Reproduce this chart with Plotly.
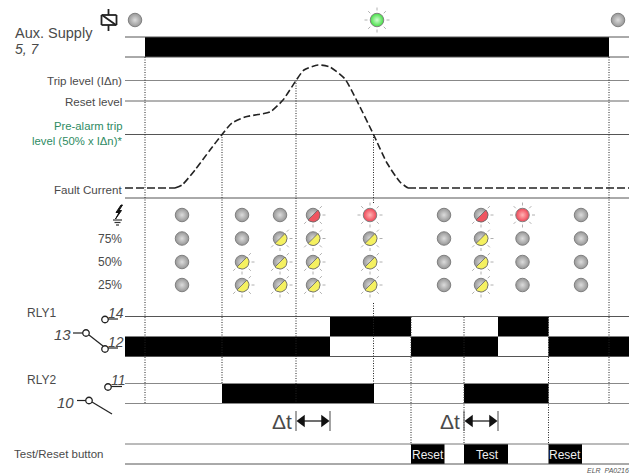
import plotly.graph_objects as go
import math

# ---------- data ----------
time_start, time_end = 125, 629
aux_supply_on = [(145, 609)]
rly1_upper_on = [(330, 411), (498, 548.5)]
rly1_lower_on = [(125, 330), (411, 498), (548.5, 629)]
rly2_on = [(222, 374), (464, 548.5)]
button_on = [(411, 444.5), (464, 508), (548.5, 582)]
button_labels = ["Reset", "Test", "Reset"]

trace_levels = [37, 57, 80.5, 101, 134.5, 198, 316.5, 356.5, 383.5, 403.5, 444, 464]
level_shades = ["#555", "#555", "#888", "#666", "#555", "#555", "#555", "#555", "#888", "#888", "#777", "#555"]

baseline_x = [125, 175]
baseline_y = [188, 188]
current_x = [175, 182, 195, 210, 222, 232, 245, 258, 270, 283, 296, 304, 318, 330, 345, 357, 373.5, 387, 400, 408]
current_y = [188, 185, 170, 150, 134.5, 123, 117, 114.5, 112, 100, 80.5, 70, 65, 67, 79, 101, 134.5, 163, 182, 188]
tail_x = [408, 629]
tail_y = [188, 188]

event_lines = [(145, 57, 403), (222, 134.5, 384), (296, 80.5, 403), (373.5, 134.5, 204), (373.5, 303, 384),
               (411, 317, 445), (464, 317, 445), (548.5, 317, 445), (609, 57, 403)]

led_columns = [182, 242, 280, 313, 370, 444, 481, 522.5, 581]
led_rows = [215, 238.5, 262, 285]
# o = off, h = half lit, f = fully lit (top row red, others yellow)
led_states = [
    "oooo", "oohh", "ohhh", "hhhh", "fhhh", "oooo", "hhhh", "fooo", "oooo",
]
supply_led_x = [135, 377, 618]
supply_led_state = ["o", "f", "o"]
supply_led_y = 20

delta_spans = [(296, 330), (464, 498)]
delta_y = 421

# ---------- helpers ----------
INK = "#4a4a4a"
fig = go.Figure()


def segs(items):
    xs, ys = [], []
    for (x0, y0, x1, y1) in items:
        xs += [x0, x1, None]
        ys += [y0, y1, None]
    return xs, ys


def lines(items, color, width=1, dash=None):
    xs, ys = segs(items)
    fig.add_trace(go.Scatter(x=xs, y=ys, mode="lines", hoverinfo="skip",
                             line=dict(color=color, width=width, dash=dash)))


def poly(xs, ys, fill, line_color=None, width=1):
    fig.add_trace(go.Scatter(x=xs, y=ys, mode="lines", fill="toself", fillcolor=fill, hoverinfo="skip",
                             line=dict(color=line_color or fill, width=width)))


def band(spans, y0, y1):
    fig.add_trace(go.Bar(y=[(y0 + y1) / 2] * len(spans), x=[b - a for a, b in spans], base=[a for a, b in spans],
                         width=y1 - y0, orientation="h", marker=dict(color="#000", line=dict(width=0)),
                         hoverinfo="skip"))


def label(x, y, s, size=12, color=INK, anchor="right", italic=False, family="Liberation Sans"):
    fig.add_annotation(x=x, y=y, text=s, showarrow=False, xanchor=anchor, yanchor="middle", xref="x", yref="y",
                       font=dict(size=size, color=color, family=family, style="italic" if italic else "normal"),
                       borderpad=0, borderwidth=0)


def leds(xs, ys, edge, centre):
    fig.add_trace(go.Scatter(x=xs, y=ys, mode="markers", hoverinfo="skip",
                             marker=dict(size=13.5, color=edge, gradient=dict(type="radial", color=centre),
                                         line=dict(color="#808080", width=1))))


def half_disc(cx, cy, fill):
    r = 7
    pts = [math.radians(-45 + i * 15) for i in range(13)]
    poly([cx + r * math.cos(a) for a in pts] + [cx + r * math.cos(pts[0])],
         [cy + r * math.sin(a) for a in pts] + [cy + r * math.sin(pts[0])],
         fill, "#666", 0.8)


def rays(cx, cy, angles, r0=9.5, r1=12.5):
    return [(cx + r0 * math.cos(math.radians(a)), cy + r0 * math.sin(math.radians(a)),
             cx + r1 * math.cos(math.radians(a)), cy + r1 * math.sin(math.radians(a))) for a in angles]


# ---------- bands ----------
band(aux_supply_on, 37, 57)
band(rly1_upper_on, 316.5, 336.5)
band(rly1_lower_on, 336.5, 356.5)
band(rly2_on, 383.5, 403.5)
band(button_on, 444, 464)

# ---------- levels ----------
for lvl, shade in zip(trace_levels, level_shades):
    lines([(time_start, lvl, time_end, lvl)], shade, 1.2 if shade == "#888" else 1)

lines([(a, y0, a, y1) for a, y0, y1 in event_lines], "#222", 1, "1px,1.5px")

# ---------- fault current ----------
fig.add_trace(go.Scatter(x=baseline_x, y=baseline_y, mode="lines", hoverinfo="skip",
                         line=dict(color="#222", width=1.6, dash="8px,3px")))
fig.add_trace(go.Scatter(x=current_x, y=current_y, mode="lines", hoverinfo="skip",
                         line=dict(color="#222", width=1.6, dash="7px,3px", shape="spline", smoothing=0.6)))
fig.add_trace(go.Scatter(x=tail_x, y=tail_y, mode="lines", hoverinfo="skip",
                         line=dict(color="#222", width=1.6, dash="8px,3px")))

# ---------- LEDs ----------
ray_items, off_x, off_y, red_x, red_y, half_red, half_yellow, half_x, half_y = [], [], [], [], [], [], [], [], []
full_angles = [0, 45, 90, 135, 180, 225, 270, 315]
half_angles = [0, 45, 90, 135, 315]
for col, state in zip(led_columns, led_states):
    for r, (row, s) in enumerate(zip(led_rows, state)):
        if s == "o":
            off_x.append(col); off_y.append(row)
        elif s == "f":
            red_x.append(col); red_y.append(row)
            ray_items += rays(col, row, full_angles)
        else:
            half_x.append(col); half_y.append(row)
            ray_items += rays(col, row, half_angles)
            (half_red if r == 0 else half_yellow).append((col, row))

for x, s in zip(supply_led_x, supply_led_state):
    if s == "o":
        off_x.append(x); off_y.append(supply_led_y)

green_x = [x for x, s in zip(supply_led_x, supply_led_state) if s == "f"]
ray_items += [it for x in green_x for it in rays(x, supply_led_y, full_angles)]
lines(ray_items, "#b0b0b0", 1)

leds(off_x + half_x, off_y + half_y, "#969696", "#dcdcdc")
leds(red_x, red_y, "#ee4455", "#ffb4b4")
leds(green_x, [supply_led_y] * len(green_x), "#44dd44", "#d0ffd0")
for c, r in half_red:
    half_disc(c, r, "#ef5560")
for c, r in half_yellow:
    half_disc(c, r, "#f5f160")

# ---------- delta-t ----------
for a, b in delta_spans:
    lines([(a, delta_y - 10, a, delta_y + 10), (b, delta_y - 10, b, delta_y + 10)], "#666", 1.2)
    lines([(a + 5, delta_y, b - 5, delta_y)], "#111", 1.2)
    fig.add_trace(go.Scatter(x=[a + 6, b - 6], y=[delta_y, delta_y], mode="markers", hoverinfo="skip",
                             marker=dict(symbol=["triangle-left", "triangle-right"], size=11, color="#111",
                                         line=dict(width=0))))
    label(a - 4, delta_y, "Δt", 21)

# ---------- symbols ----------
# relay coil
lines([(101.5, 15, 116.5, 15), (116.5, 15, 116.5, 25), (116.5, 25, 101.5, 25), (101.5, 25, 101.5, 15),
       (108.5, 9, 108.5, 15), (108.5, 25, 108.5, 31), (102, 15, 116, 25)], "#222", 1.8)
# earth / lightning
poly([121, 116, 119, 115.5, 121.5, 119, 122.5, 121], [205, 212.5, 212.5, 219, 210.5, 210.5, 205, 205], "#111")
lines([(113, 220, 122, 220), (114.5, 222.5, 120.5, 222.5), (116, 225, 119, 225)], "#333", 1.2)
# contacts
lines([(108, 319, 118, 319), (73, 333, 83, 333), (89, 335, 103, 346), (108, 348, 118, 348),
       (111, 386.5, 122, 386.5), (77, 400.5, 86, 400.5), (92, 402, 112, 414)], "#222", 1.2)
fig.add_trace(go.Scatter(x=[105, 86, 105, 108, 89], y=[319.5, 333, 349, 387, 400.5], mode="markers", hoverinfo="skip",
                         marker=dict(size=6.5, color="#fff", line=dict(color="#222", width=1.3))))

# ---------- text ----------
label(15, 33, "Aux. Supply", 14.5, anchor="left")
label(15, 49, "5, 7", 14, anchor="left", italic=True)
label(122, 80.5, "Trip level (IΔn)", 11.6)
label(122, 101.5, "Reset level", 11.6)
label(122, 126, "Pre-alarm trip", 11.3, "#2e8b63")
label(122, 141, "level (50% x IΔn)*", 11.3, "#2e8b63")
label(122, 189, "Fault Current", 11.6)
label(122, 238.5, "75%", 12)
label(122, 261.5, "50%", 12)
label(122, 285, "25%", 12)
label(27, 313, "RLY1", 12, anchor="left")
label(27, 379.5, "RLY2", 12, anchor="left")
label(14, 454, "Test/Reset button", 11.5, anchor="left")
label(107.5, 312.5, "14", 14, anchor="left", italic=True)
label(107.5, 341.5, "12", 14, anchor="left", italic=True)
label(110.5, 380, "11", 14, anchor="left", italic=True)
label(54, 334, "13", 15, anchor="left", italic=True)
label(57, 402, "10", 15, anchor="left", italic=True)
for (a, b), s in zip(button_on, button_labels):
    label((a + b) / 2 + (1 if s == "Test" else 0), 454.5, s, 12, "#eee", anchor="center")
label(629, 470, "ELR  PA0216", 7, "#555", italic=True)

fig.update_layout(
    width=637, height=473, margin=dict(l=0, r=0, t=0, b=0), showlegend=False,
    paper_bgcolor="#fff", plot_bgcolor="#fff", barmode="overlay", hovermode=False,
    xaxis=dict(visible=False, range=[0, 637], fixedrange=True),
    yaxis=dict(visible=False, range=[473, 0], fixedrange=True),
)
fig.write_html("out.html", config=dict(displayModeBar=False),
               post_script="document.body.style.margin='0';document.body.style.overflow='hidden';")
